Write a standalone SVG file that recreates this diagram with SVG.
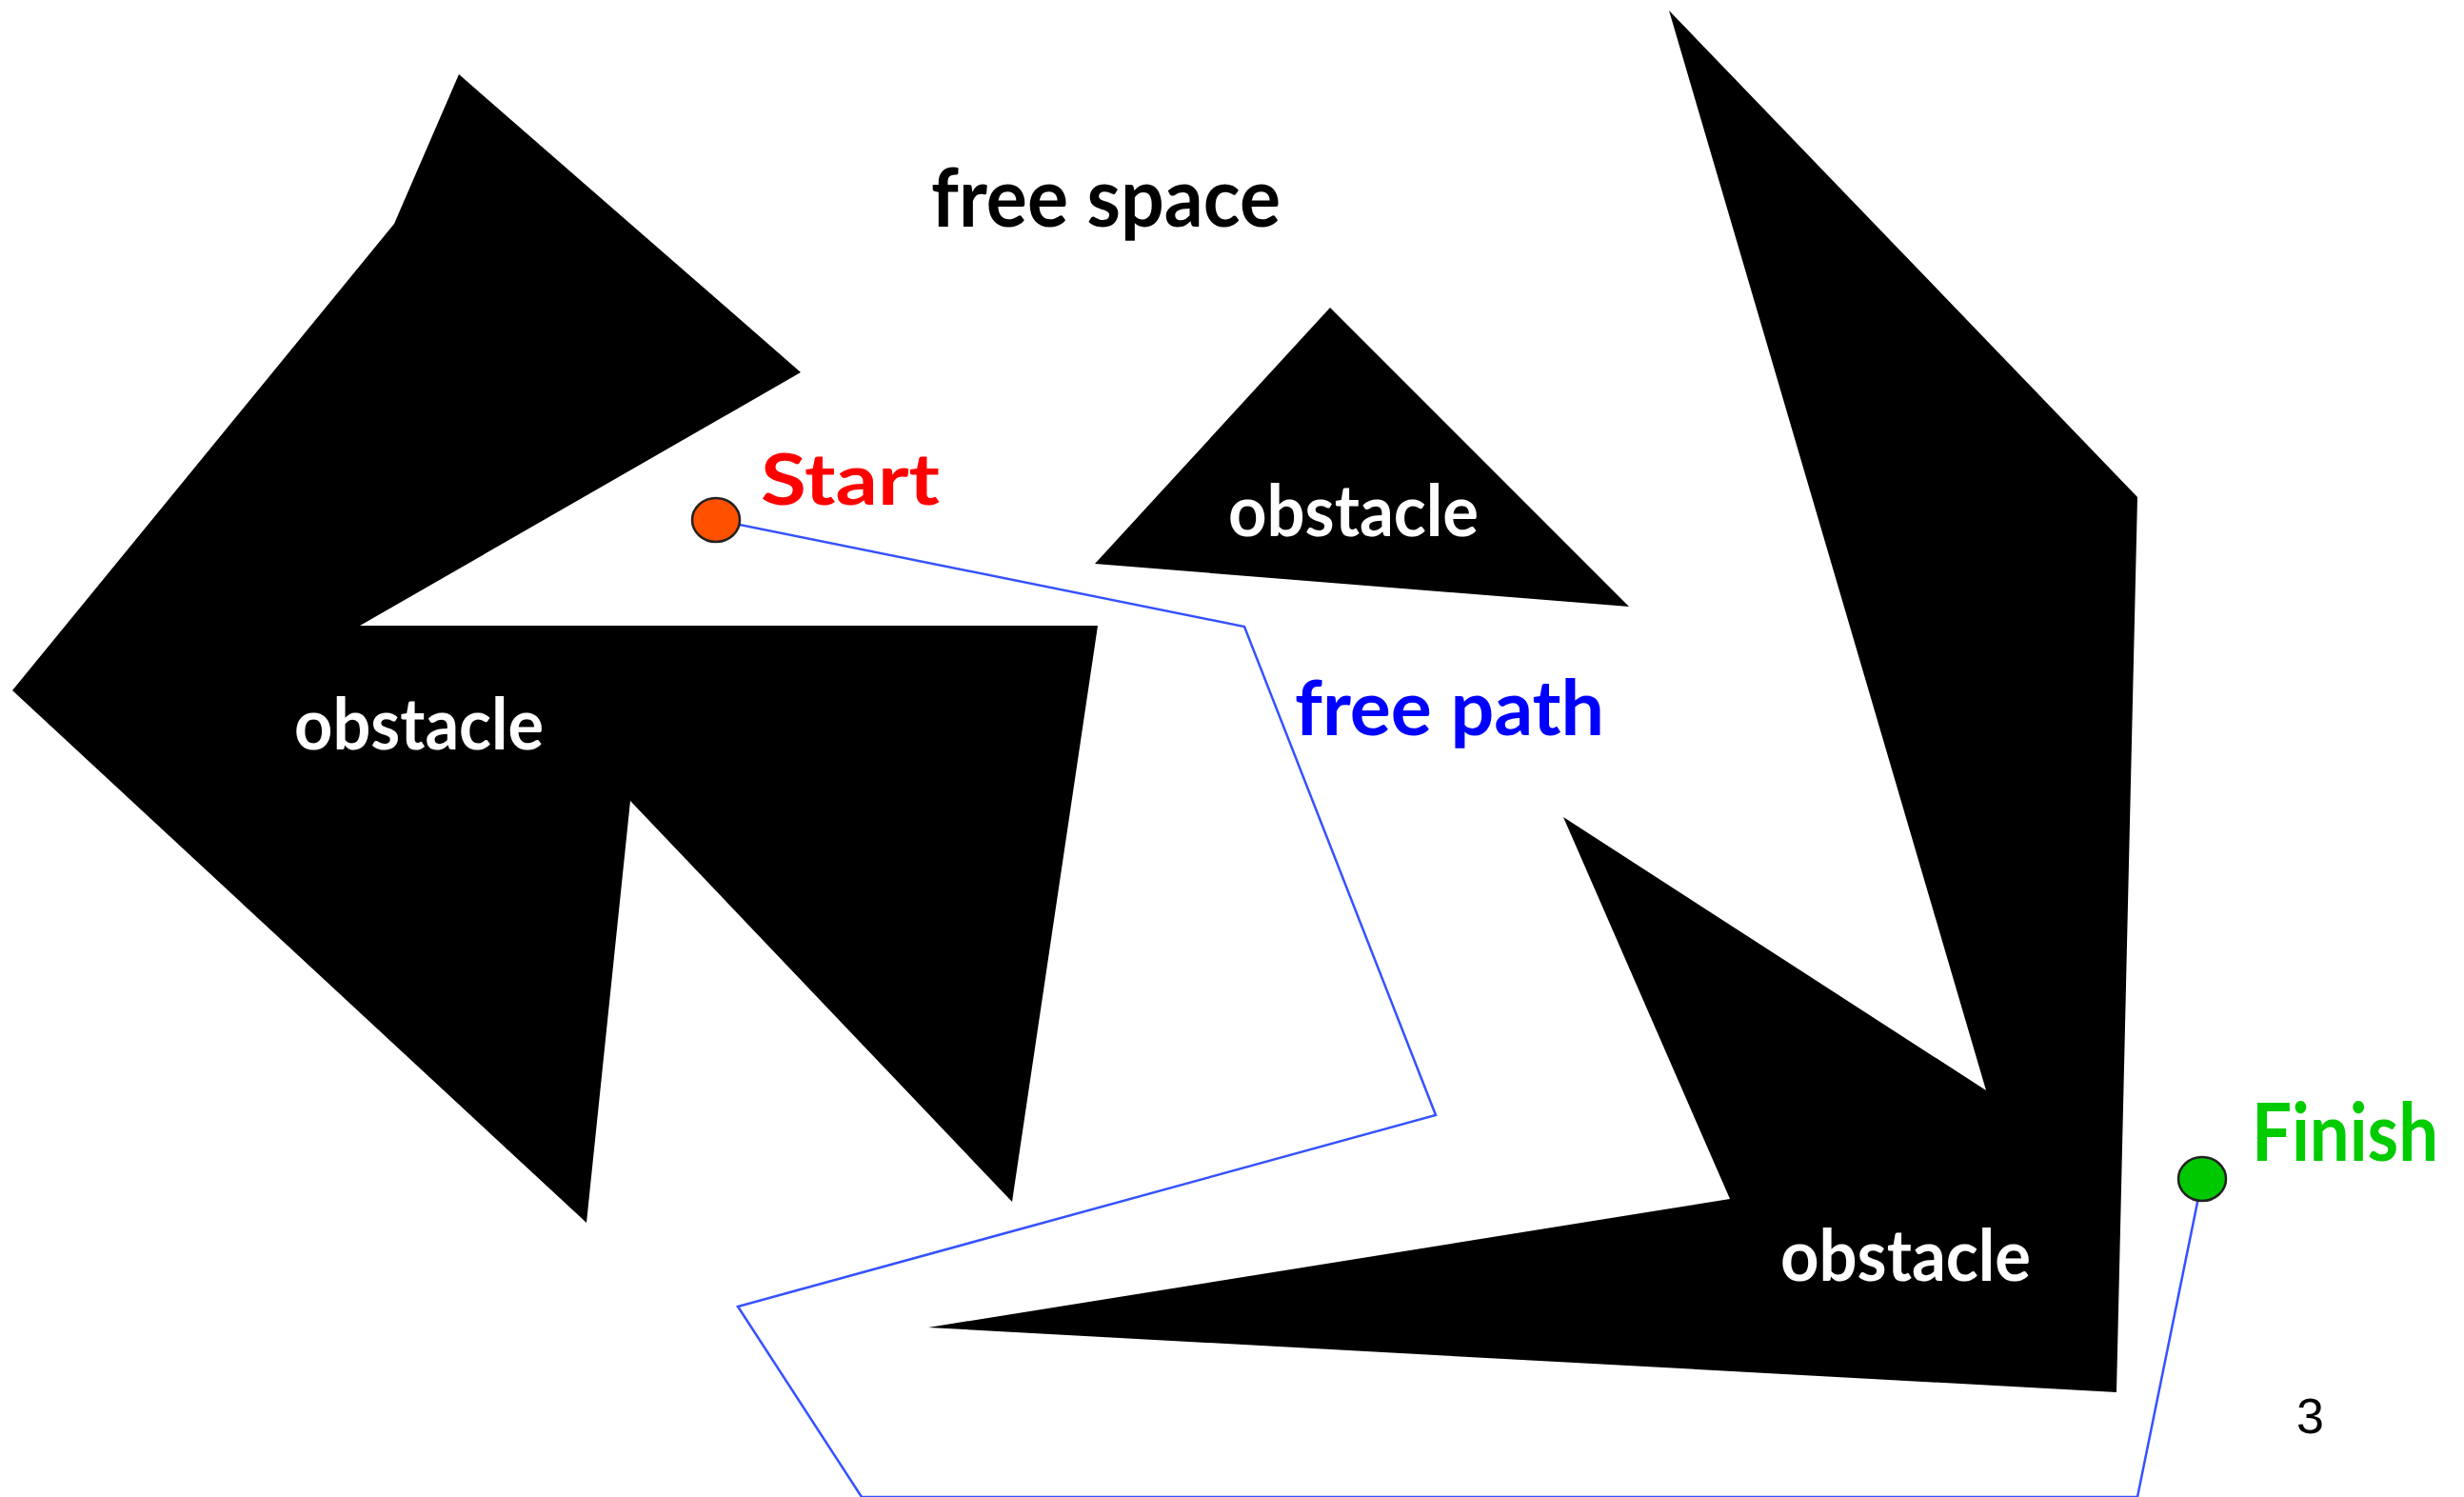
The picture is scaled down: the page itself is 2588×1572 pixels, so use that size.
<svg xmlns="http://www.w3.org/2000/svg" width="2588" height="1572" viewBox="0 0 2588 1572">
  <style>
    .obstacle { fill: #000000; }
    .lbl { font-family: "Lato", "Noto Sans", "Liberation Sans", sans-serif; font-weight: 700; }
    .white { fill: #ffffff; }
    .path { fill: none; stroke: #3552ff; stroke-width: 2.5; stroke-linejoin: miter; }
    .dot { stroke: #222222; stroke-width: 2.5; }
  </style>
  <rect x="0" y="0" width="2588" height="1572" fill="#ffffff"/>

  <g id="connectors">
    <polyline class="path" points="752,546 1307,658 1508,1171 775,1372 905,1572 2245,1572 2313,1238"/>
  </g>

  <g id="obstacle-left">
    <polygon class="obstacle" points="482,78 841,391 378,657 1153,657 1063,1262 662,841 616,1284 13,725 414,235"/>
    <text class="lbl white" x="309" y="787" font-size="75" textLength="262" lengthAdjust="spacingAndGlyphs">obstacle</text>
  </g>

  <g id="obstacle-triangle">
    <polygon class="obstacle" points="1397,323 1711,637 1150,592"/>
    <text class="lbl white" x="1290" y="563" font-size="75" textLength="263" lengthAdjust="spacingAndGlyphs">obstacle</text>
  </g>

  <g id="obstacle-right">
    <polygon class="obstacle" points="1753,11 2245,522 2223,1462 975,1394 1817,1259 1642,858 2086,1145"/>
    <text class="lbl white" x="1870" y="1345" font-size="75" textLength="263" lengthAdjust="spacingAndGlyphs">obstacle</text>
  </g>

  <g id="start">
    <ellipse class="dot" cx="752" cy="546" rx="25" ry="23" fill="#ff5000"/>
    <text class="lbl" x="799" y="530" font-size="74" fill="#ff0000" textLength="188" lengthAdjust="spacingAndGlyphs">Start</text>
  </g>

  <g id="finish">
    <ellipse class="dot" cx="2313" cy="1238" rx="25" ry="23" fill="#00c800"/>
    <text class="lbl" x="2365" y="1219" font-size="84" fill="#00cc00" textLength="196" lengthAdjust="spacingAndGlyphs">Finish</text>
  </g>

  <g id="labels">
    <text class="lbl" x="978" y="238" font-size="86" fill="#000000" textLength="367" lengthAdjust="spacingAndGlyphs">free space</text>
    <text class="lbl" x="1360" y="772" font-size="80" fill="#0000ff" textLength="325" lengthAdjust="spacingAndGlyphs">free path</text>
    <text x="2412" y="1505" font-family="Liberation Sans, Arial, sans-serif" font-size="52" fill="#000000">3</text>
  </g>
</svg>
